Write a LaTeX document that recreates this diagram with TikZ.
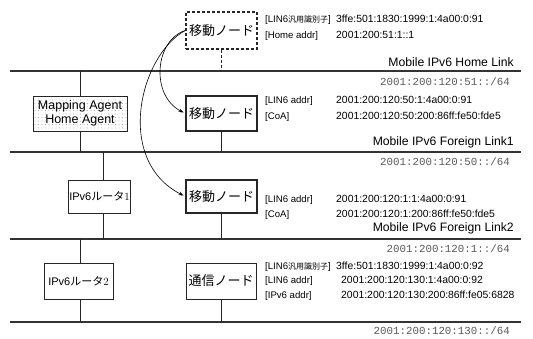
\documentclass[tikz,border=0pt]{standalone}
\usepackage{fontspec}
\setsansfont{Liberation Sans}
\newfontfamily\jp{Noto Sans CJK JP}
\newfontfamily\mono{Liberation Mono}
\usetikzlibrary{arrows.meta,patterns.meta}
\newcommand{\jsmall}[1]{{\jp\fontsize{8}{10}\selectfont #1}}
\begin{document}
\begin{tikzpicture}[x=1pt,y=-1pt,
  netline/.style={line width=1.1pt, draw=black!80},
  stubline/.style={line width=0.8pt, draw=black!85},
  boxnode/.style={draw=black!85, line width=0.8pt, inner sep=0pt, font=\sffamily\fontsize{12.5}{14.5}\selectfont, align=center},
  mobbox/.style={boxnode, line width=1.4pt, minimum width=71pt},
  jbox/.style={font=\jp\fontsize{13}{15}\selectfont},
  rbox/.style={font=\sffamily\fontsize{11}{13}\selectfont},
  addrlbl/.style={anchor=west, inner sep=0pt, text height=8pt, text depth=2.5pt, font=\sffamily\fontsize{9.6}{12}\selectfont},
  addrval/.style={anchor=west, inner sep=0pt, text height=8pt, text depth=2.5pt, font=\sffamily\fontsize{10.4}{12}\selectfont},
  linkname/.style={anchor=east, inner sep=0pt, font=\sffamily\fontsize{12.2}{14}\selectfont},
  pfxlabel/.style={anchor=east, inner sep=0pt, text=black!65, font=\mono\fontsize{10.8}{12}\selectfont},
  movearrow/.style={line width=0.6pt, -{Stealth[length=5pt,width=3.5pt]}, shorten >=2pt}
]
\useasboundingbox (0,0) rectangle (533,338);

% network lines
\coordinate (h0) at (10,71);   \coordinate (h1) at (521,71);
\coordinate (f0) at (10,152);  \coordinate (f1) at (521,152);
\coordinate (g0) at (10,239);  \coordinate (g1) at (521,239);
\coordinate (b0) at (10,322);  \coordinate (b1) at (521,322);
\draw[netline] (h0) -- (h1);
\draw[netline] (f0) -- (f1);
\draw[netline] (g0) -- (g1);
\draw[netline] (b0) -- (b1);

% boxes
\node[mobbox, jbox, dash pattern=on 3pt off 2pt, minimum height=37pt] (mn0) at (221.5,30.5) {移動ノード};
\node[boxnode, minimum width=94pt, minimum height=35pt, pattern={Dots[distance=3.5pt, radius=0.35pt]}, pattern color=black!55] (ma) at (80,113.5) {Mapping Agent\\Home Agent};
\node[mobbox, jbox, minimum height=35pt] (mn1) at (221.5,113.5) {移動ノード};
\node[boxnode, rbox, minimum width=62pt, minimum height=33pt] (r1) at (99.5,196.5) {IPv6{\jp ルータ}{\rmfamily 1}};
\node[mobbox, jbox, minimum height=33pt] (mn2) at (221.5,196.5) {移動ノード};
\node[boxnode, rbox, minimum width=69pt, minimum height=36pt] (r2) at (78.5,281) {IPv6{\jp ルータ}{\rmfamily 2}};
\node[boxnode, jbox, minimum width=70pt, minimum height=36pt] (cn) at (221,281) {通信ノード};

% stubs
\draw[stubline, dash pattern=on 3pt off 2pt] (mn0.south) -- (mn0.south |- h0);
\draw[stubline] (ma.north) -- (ma.north |- h0);
\draw[stubline] (ma.south) -- (ma.south |- f0);
\draw[stubline] (mn1.south) -- (mn1.south |- f0);
\draw[stubline] ([xshift=3.5pt]r1.north) -- ([xshift=3.5pt]r1.north |- f0);
\draw[stubline] ([xshift=3.5pt]r1.south) -- ([xshift=3.5pt]r1.south |- g0);
\draw[stubline] (mn2.south) -- (mn2.south |- g0);
\draw[stubline] ([xshift=1.5pt]r2.north) -- ([xshift=1.5pt]r2.north |- g0);
\draw[stubline] ([xshift=1.5pt]r2.south) -- ([xshift=1.5pt]r2.south |- b0);
\draw[stubline] (cn.south) -- (cn.south |- b0);

% movement arrows
\draw[movearrow] (mn0.west) .. controls (155,40) and (150,95) .. (mn1.west);
\draw[movearrow] (mn0.west) .. controls (140,55) and (114,160) .. (mn2.west);

% link labels
\node[linkname] (ln0) at (514,62) {Mobile IPv6 Home Link};
\node[pfxlabel] (p0) at (510,82) {2001:200:120:51::/64};
\node[linkname] (ln1) at (514,142) {Mobile IPv6 Foreign Link1};
\node[pfxlabel] (p1) at (510,162) {2001:200:120:50::/64};
\node[linkname] (ln2) at (514,228) {Mobile IPv6 Foreign Link2};
\node[pfxlabel] (p2) at (510,249) {2001:200:120:1::/64};
\node[pfxlabel] (p3) at (510,331) {2001:200:120:130::/64};

% address texts
\node[addrlbl] (t0a) at (265,20) {[LIN6\jsmall{汎用識別子}]};
\node[addrval] (v0a) at (336,20) {3ffe:501:1830:1999:1:4a00:0:91};
\node[addrlbl] (t0b) at (265,36) {[Home addr]};
\node[addrval] (v0b) at (336,36) {2001:200:51:1::1};

\node[addrlbl] (t1a) at (265,101) {[LIN6 addr]};
\node[addrval] (v1a) at (336,101) {2001:200:120:50:1:4a00:0:91};
\node[addrlbl] (t1b) at (265,117) {[CoA]};
\node[addrval] (v1b) at (336,117) {2001:200:120:50:200:86ff:fe50:fde5};

\node[addrlbl] (t2a) at (265,200) {[LIN6 addr]};
\node[addrval] (v2a) at (336,200) {2001:200:120:1:1:4a00:0:91};
\node[addrlbl] (t2b) at (265,215) {[CoA]};
\node[addrval] (v2b) at (336,215) {2001:200:120:1:200:86ff:fe50:fde5};

\node[addrlbl] (t3a) at (265,267) {[LIN6\jsmall{汎用識別子}]};
\node[addrval] (v3a) at (336,267) {3ffe:501:1830:1999:1:4a00:0:92};
\node[addrlbl] (t3b) at (265,281) {[LIN6 addr]};
\node[addrval] (v3b) at (341,281) {2001:200:120:130:1:4a00:0:92};
\node[addrlbl] (t3c) at (265,296) {[IPv6 addr]};
\node[addrval] (v3c) at (341,296) {2001:200:120:130:200:86ff:fe05:6828};
\end{tikzpicture}
\end{document}
